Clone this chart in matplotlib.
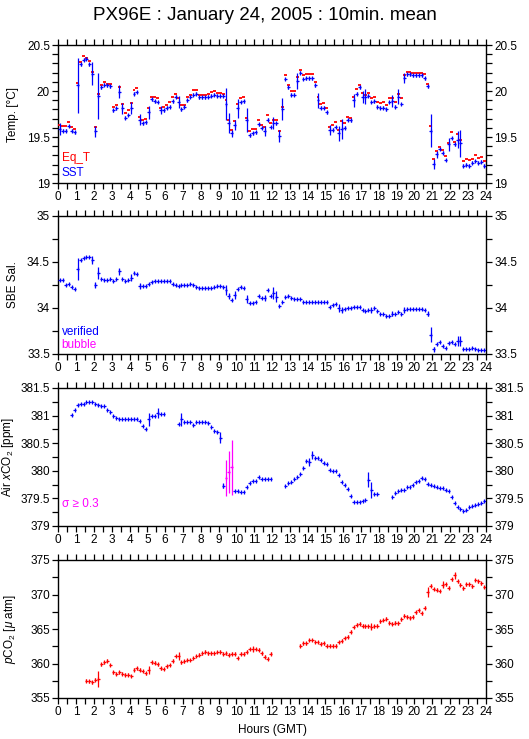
import numpy as np
import matplotlib
matplotlib.use("Agg")
import matplotlib.pyplot as plt
from matplotlib.ticker import MultipleLocator

plt.rcParams['font.family'] = ['Liberation Sans', 'DejaVu Sans']
plt.rcParams['mathtext.fontset'] = 'custom'
plt.rcParams['mathtext.rm'] = 'Liberation Sans'
plt.rcParams['mathtext.it'] = 'Liberation Sans:italic'

nan = np.nan

# ---------------- data (10-min bins, 144 per day) ----------------
sst = [19.59, 19.57, 19.57, 19.62, 19.57, 19.55,
       20.06, 20.29, 20.34, 20.35, 20.29, 20.19,
       19.56, 19.95, 20.04, 20.07, 20.06, 20.05,
       19.79, 19.81, 19.99, 19.81, 19.71, 19.74,
       19.82, 19.97, 19.99, 19.69, 19.65, 19.66,
       19.77, 19.91, 19.89, 19.88, 19.79, 19.79,
       19.82, 19.83, 19.89, 19.94, 19.88, 19.80,
       19.83, 19.90, 19.94, 19.96, 19.97, 19.93,
       19.93, 19.93, 19.94, 19.95, 19.96, 19.95,
       19.95, 19.95, 19.86, 19.65, 19.54, 19.63,
       19.81, 19.88, 19.89, 19.68, 19.52, 19.54,
       19.55, 19.64, 19.60, 19.57, 19.69, 19.61,
       19.65, 19.65, 19.51, 19.80, 20.13, 20.04,
       19.96, 19.96, 20.11, 20.20, 20.13, 20.14,
       20.14, 20.14, 20.06, 19.90, 19.82, 19.82,
       19.77, 19.58, 19.58, 19.61, 19.54, 19.59,
       19.60, 19.69, 19.68, 19.90, 19.97, 20.04,
       19.94, 19.94, 19.95, 19.88, 19.89, 19.83,
       19.82, 19.82, 19.80, 19.88, 19.89, 19.83,
       19.94, 19.86, 20.14, 20.18, 20.18, 20.17,
       20.17, 20.17, 20.17, 20.14, 20.05, 19.57,
       19.21, 19.31, 19.37, 19.33, 19.25, 19.42,
       19.49, 19.42, 19.47, 19.43, 19.19, 19.20,
       19.19, 19.22, 19.24, 19.22, 19.23, 19.19]

eqt = [19.63, 19.62, 19.62, 19.66, 19.61, 19.59,
       20.09, 20.32, 20.38, 20.36, 20.33, 20.21,
       19.61, 19.97, 20.07, 20.10, 20.08, 20.08,
       19.83, 19.85, 20.04, 19.86, 19.76, 19.79,
       19.87, 20.01, 20.03, 19.72, 19.69, 19.70,
       19.81, 19.94, 19.93, 19.92, 19.82, 19.83,
       19.85, 19.88, 19.94, 19.97, 19.92, 19.85,
       19.85, 19.94, 19.96, 20.01, 20.01, 19.96,
       19.96, 19.96, 19.97, 19.99, 20.00, 19.98,
       19.98, 19.97, 19.90, 19.69, 19.58, 19.67,
       19.86, 19.92, 19.93, 19.71, 19.57, 19.59,
       19.59, 19.68, 19.63, 19.61, 19.74, 19.65,
       19.69, 19.69, 19.57, 19.83, 20.17, 20.07,
       20.00, 20.00, 20.15, 20.23, 20.17, 20.18,
       20.19, 20.19, 20.10, 19.94, 19.86, 19.87,
       19.82, 19.61, 19.63, 19.66, 19.58, 19.67,
       19.65, 19.72, 19.71, 19.94, 20.02, 20.07,
       19.98, 19.96, 19.98, 19.92, 19.93, 19.88,
       19.87, 19.88, 19.85, 19.92, 19.92, 19.88,
       19.97, 19.92, 20.17, 20.21, 20.21, 20.20,
       20.20, 20.20, 20.20, 20.18, 20.08, 19.62,
       19.26, 19.35, 19.39, 19.36, 19.29, 19.44,
       19.55, 19.45, 19.53, 19.47, 19.24, 19.26,
       19.25, 19.26, 19.30, 19.27, 19.28, 19.24]

sst_err_default = 0.015
sst_err_big = {0: 0.065, 6: 0.30, 11: 0.12, 12: 0.065, 13: 0.25, 20: 0.07, 21: 0.065,
               24: 0.065, 27: 0.055, 30: 0.07, 34: 0.045, 40: 0.065, 56: 0.17,
               57: 0.11, 58: 0.04, 59: 0.055, 60: 0.10, 63: 0.13, 69: 0.055,
               72: 0.065, 74: 0.065, 75: 0.12, 80: 0.09, 87: 0.08, 91: 0.055,
               94: 0.08, 95: 0.11, 99: 0.07, 102: 0.065, 103: 0.08, 112: 0.065,
               114: 0.08, 116: 0.055, 125: 0.18, 126: 0.055, 127: 0.04,
               131: 0.07, 134: 0.09, 135: 0.145}

sal = [34.30, 34.30, 34.25, 34.26, 34.23, 34.21,
       34.42, 34.52, 34.54, 34.55, 34.55, 34.52,
       34.25, 34.38, 34.32, 34.30, 34.30, 34.31,
       34.29, 34.31, 34.40, 34.32, 34.29, 34.30,
       34.33, 34.38, 34.37, 34.24, 34.24, 34.24,
       34.26, 34.28, 34.29, 34.29, 34.29, 34.29,
       34.29, 34.29, 34.26, 34.25, 34.24, 34.25,
       34.25, 34.25, 34.26, 34.25, 34.23, 34.22,
       34.22, 34.22, 34.22, 34.22, 34.23, 34.24,
       34.24, 34.23, 34.20, 34.13, 34.09, 34.14,
       34.21, 34.23, 34.22, 34.10, 34.05, 34.05,
       34.07, 34.13, 34.11, 34.11, 34.20, 34.13,
       34.16, 34.12, 34.02, 34.06, 34.12, 34.13,
       34.11, 34.10, 34.10, 34.10, 34.07, 34.06,
       34.06, 34.06, 34.06, 34.06, 34.06, 34.06,
       34.06, 34.01, 34.03, 34.04, 34.00, 33.98,
       33.99, 34.00, 34.00, 34.01, 34.01, 34.01,
       33.98, 33.97, 33.98, 33.98, 34.00, 33.97,
       33.94, 33.93, 33.91, 33.91, 33.94, 33.94,
       33.96, 33.93, 33.98, 33.99, 33.99, 33.99,
       33.99, 33.99, 33.99, 33.98, 33.94, 33.71,
       33.55, 33.61, 33.63, 33.59, 33.56, 33.62,
       33.63, 33.61, 33.64, 33.64, 33.55, 33.55,
       33.55, 33.57, 33.55, 33.54, 33.54, 33.54]

sal_err_default = 0.01
sal_err_big = {6: 0.12, 11: 0.04, 12: 0.035, 13: 0.07, 20: 0.04, 24: 0.035, 27: 0.03,
               56: 0.055, 57: 0.035, 59: 0.04, 63: 0.045, 69: 0.03, 72: 0.065,
               73: 0.06, 94: 0.045, 95: 0.035, 105: 0.03, 112: 0.03, 116: 0.03,
               124: 0.03, 125: 0.08, 126: 0.025, 134: 0.055, 135: 0.055}

xco2 = ([nan] * 4 +
        [381.01, 381.11, 381.19, 381.21, 381.21, 381.24, 381.25, 381.25,
         381.21, 381.19, 381.17, 381.17, 381.11, 381.06, 381.00, 380.96,
         380.94, 380.93, 380.93, 380.93, 380.94, 380.94, 380.94, 380.91,
         380.82, 380.76, 380.93, 381.00, 380.99, 381.05, 381.02, 381.02] +
        [nan] * 4 +
        [380.85, 380.93, 380.88, 380.88, 380.89, 380.83, 380.88, 380.88,
         380.89, 380.88, 380.86, 380.79, 380.73, 380.70, 380.60] +
        [379.73, 379.87, 379.98, 380.06, 379.64, 379.64, 379.61, 379.62,
         379.70, 379.77, 379.82, 379.82, 379.88, 379.86, 379.86, 379.86, 379.86] +
        [nan] * 4 +
        [379.73, 379.77, 379.79, 379.85, 379.89, 379.94, 380.05, 380.18,
         380.16, 380.28, 380.23, 380.23, 380.20, 380.14, 380.12, 380.02,
         380.00, 380.00, 379.93, 379.79, 379.74, 379.67, 379.54, 379.44,
         379.43, 379.44, 379.46, 379.48, 379.84, 379.65, 379.58, 379.58] +
        [nan] * 4 +
        [379.53, 379.59, 379.64, 379.66, 379.66, 379.70, 379.71, 379.74,
         379.79, 379.81, 379.87, 379.85, 379.76, 379.74, 379.73, 379.70,
         379.68, 379.68, 379.65, 379.64, 379.53, 379.41, 379.34, 379.30,
         379.28, 379.29, 379.34, 379.36, 379.38, 379.39, 379.42, 379.45])

xco2_err_default = 0.012
xco2_err_big = {30: 0.12, 33: 0.09, 41: 0.12, 54: 0.10, 55: 0.05, 56: 0.32, 57: 0.38,
                58: 0.50, 84: 0.07, 85: 0.075, 104: 0.14, 105: 0.14}
xco2_flagged = [56, 57, 58]   # sigma >= 0.3

pco2 = ([nan] * 9 +
        [357.5, 357.4, 357.3, 357.65, 357.75, 359.9, 360.2, 360.4, 359.8, 358.7,
         358.5, 358.7, 358.5, 358.4, 358.4, 358.2, 359.1, 359.3, 359.1, 358.9,
         358.6, 359.1, 360.2, 360.1, 359.9, 359.3, 359.2, 359.6, 359.8, 360.4,
         361.1, 361.1, 360.2, 360.3, 360.5, 360.5, 360.8, 361.1, 361.3, 361.5,
         361.7, 361.5, 361.5, 361.5, 361.65, 361.7, 361.4, 361.5, 361.3, 361.4,
         361.4, 360.8, 361.4, 361.4, 361.7, 362.1, 362.1, 362.1, 362.0, 361.5,
         361.0, 360.7, 361.4] +
        [nan] * 9 +
        [362.6, 362.95, 362.95, 363.4, 363.4, 363.1, 363.1, 362.85, 362.95, 362.6,
         362.6, 362.6, 362.6, 363.1, 363.3, 363.7, 363.9, 364.6, 365.3, 365.6,
         365.75, 365.5, 365.4, 365.4, 365.3, 365.4, 365.5, 366.1, 366.3, 366.5,
         365.9, 365.75, 365.9, 365.85, 366.4, 366.95, 366.8, 366.65, 366.8, 367.4,
         367.7, 367.3, 368.1, 370.4, 371.3, 370.8, 370.7, 370.5, 371.4, 371.5,
         371.0, 372.2, 372.8, 371.9, 371.4, 370.9, 371.5, 371.5, 371.2, 372.1,
         371.9, 371.6, 371.1])

pco2_err_default = 0.2
pco2_err_big = {13: 1.1, 30: 0.6, 40: 0.6, 65: 0.4, 105: 0.5, 124: 0.7, 129: 0.5, 133: 0.5}

hour_ticks = list(range(0, 25))

# ---------------- helpers ----------------
n_bins = 144
t = (np.arange(n_bins) + 0.5) / 6.0
half_bin = 1.0 / 12.0

RED = '#ff0000'
BLUE = '#0000ff'
MAG = '#ff00ff'


def make_err(default, big):
    e = np.full(n_bins, default)
    for k, v in big.items():
        e[k] = v
    return e


def plus_marks(ax, x, y, yerr, color, lw=0.9, vert=True):
    x = np.asarray(x)
    y = np.asarray(y, dtype=float)
    ax.errorbar(x, y, xerr=half_bin, yerr=yerr if vert else None, fmt='none',
                ecolor=color, elinewidth=lw, capsize=0, zorder=3)
    if vert:
        ax.plot(x, y, ls='none', marker='|', ms=3.0, mew=lw, color=color, zorder=3)


fig = plt.figure(figsize=(5.29, 7.39), dpi=100)

left = 58.3 / 529
width = 427.4 / 529
tops = [45, 216, 388, 560]
ph = 138
axes = []
for tp in tops:
    ax = fig.add_axes([left, 1 - (tp + ph) / 739, width, ph / 739])
    axes.append(ax)

for ax in axes:
    ax.set_xlim(0, 24)
    ax.set_xticks(hour_ticks)
    ax.set_xticklabels([str(h) for h in hour_ticks])
    ax.xaxis.set_minor_locator(MultipleLocator(0.5))
    ax.tick_params(axis='both', which='both', direction='out', top=True, right=True,
                   labelright=True, length=4, width=0.9, labelsize=8.5, pad=2)
    for s in ax.spines.values():
        s.set_linewidth(1.0)

# Panel 1: temperatures
ax = axes[0]
plus_marks(ax, t, eqt, None, RED, lw=1.3, vert=False)
plus_marks(ax, t, sst, make_err(sst_err_default, sst_err_big), BLUE)
ax.set_ylim(19, 20.5)
ax.set_yticks([19, 19.5, 20, 20.5])
ax.set_yticklabels(['19', '19.5', '20', '20.5'])
ax.yaxis.set_minor_locator(MultipleLocator(0.1))
ax.set_ylabel('Temp. [°C]', fontsize=8.5, labelpad=6)
ax.text(0.008, 0.18, 'Eq_T', color=RED, transform=ax.transAxes, fontsize=8.5, va='center')
ax.text(0.008, 0.07, 'SST', color=BLUE, transform=ax.transAxes, fontsize=8.5, va='center')

# Panel 2: salinity
ax = axes[1]
plus_marks(ax, t, sal, make_err(sal_err_default, sal_err_big), BLUE)
ax.set_ylim(33.5, 35)
ax.set_yticks([33.5, 34, 34.5, 35])
ax.set_yticklabels(['33.5', '34', '34.5', '35'])
ax.yaxis.set_minor_locator(MultipleLocator(0.25))
ax.set_ylabel('SBE Sal.', fontsize=8.5, labelpad=6)
ax.text(0.008, 0.16, 'verified', color=BLUE, transform=ax.transAxes, fontsize=8.5, va='center')
ax.text(0.008, 0.065, 'bubble', color=MAG, transform=ax.transAxes, fontsize=8.5, va='center')

# Panel 3: air xCO2
ax = axes[2]
xc = np.array(xco2, dtype=float)
xe = make_err(xco2_err_default, xco2_err_big)
ok = np.ones(n_bins, bool)
ok[xco2_flagged] = False
plus_marks(ax, t[ok], xc[ok], xe[ok], BLUE)
plus_marks(ax, t[~ok], xc[~ok], xe[~ok], MAG)
ax.set_ylim(379, 381.5)
ax.set_yticks([379, 379.5, 380, 380.5, 381, 381.5])
ax.set_yticklabels(['379', '379.5', '380', '380.5', '381', '381.5'])
ax.yaxis.set_minor_locator(MultipleLocator(0.25))
ax.set_ylabel(r'Air $\it{x}$CO$_2$ [ppm]', fontsize=8.5, labelpad=3)
ax.text(0.008, 0.16, 'σ ≥ 0.3', color=MAG, transform=ax.transAxes, fontsize=8.5, va='center')

# Panel 4: pCO2
ax = axes[3]
plus_marks(ax, t, pco2, make_err(pco2_err_default, pco2_err_big), RED)
ax.set_ylim(355, 375)
ax.set_yticks([355, 360, 365, 370, 375])
ax.set_yticklabels(['355', '360', '365', '370', '375'])
ax.yaxis.set_minor_locator(MultipleLocator(2.5))
ax.set_ylabel(r'$\it{p}$CO$_2$ [$\mu$ atm]', fontsize=8.5, labelpad=9)
ax.set_xlabel('Hours (GMT)', fontsize=8.5, labelpad=4)

fig.text(0.5, 1 - 15 / 739, 'PX96E : January 24, 2005 : 10min. mean',
         ha='center', va='center', fontsize=13.5)

fig.savefig('out.png', dpi=100)
